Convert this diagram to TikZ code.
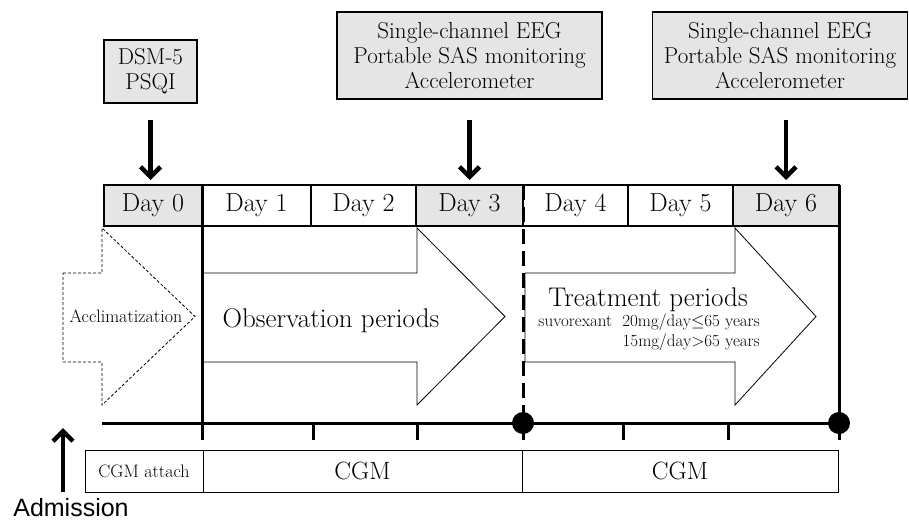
\documentclass[tikz,border=0pt]{standalone}
\usepackage{fontspec}
\newfontfamily\admfont{Liberation Sans}
\usetikzlibrary{arrows.meta}

\newcommand{\setfs}[2]{\fontsize{#1}{#2}\selectfont}
\definecolor{boxgray}{gray}{0.9}

\tikzset{
	greybox/.style={draw, line width=1.5pt, fill=boxgray, align=center, inner sep=0pt, outer sep=0pt},
	daybox/.style={draw, line width=1.5pt, minimum height=41pt, inner sep=0pt, outer sep=0pt, font=\setfs{26}{28}},
	cgmbox/.style={draw, line width=1pt, minimum height=42pt, inner sep=0pt, outer sep=0pt},
	downarrow/.style={line width=4.5pt, -{Straight Barb[length=10pt,width=20pt]}},
	periodarrow/.style={line width=0.8pt, fill=white},
}

\begin{document}
\begin{tikzpicture}[x=1pt,y=-1pt]
	\useasboundingbox (0,0) rectangle (909,519);
	
	% measurements
	\node[greybox, minimum width=93pt, minimum height=63pt, font=\setfs{23}{25}] (dsm) at (150.5,71.5) {DSM-5\\PSQI};
	
	\node[greybox, minimum width=265pt, minimum height=87pt, font=\setfs{23}{25}] (eega) at (469.5,55.5) {Single-channel EEG\\Portable SAS monitoring\\Accelerometer};
	
	\node[greybox, minimum width=255pt, minimum height=87pt, font=\setfs{23}{25}] (eegb) at (780,55.5) {Single-channel EEG\\Portable SAS monitoring\\Accelerometer};
	
	% days
	\foreach \n/\l/\r/\c in {0/104/202/boxgray, 1/202/311/white, 2/311/416/white, 3/416/523/boxgray, 4/523/628/white, 5/628/733/white, 6/733/839/boxgray}
		\node[daybox, fill=\c, minimum width={(\r-\l)*1pt}] (d\n) at ({(\l+\r)/2},205.5) {Day \n};
	
	\draw[downarrow, shorten <=17pt, shorten >=5pt] (dsm.south) -- (dsm.south |- d0.north);
	
	\draw[downarrow, shorten <=21pt, shorten >=5pt] (eega.south) -- (eega.south |- d3.north);
	
	\draw[downarrow, shorten <=21pt, shorten >=5pt] (d6.north |- eegb.south) -- (d6.north);
	
	% periods
	\draw[periodarrow, densely dashed] (63,273) -- (102,273) -- (102,228) -- (195,316.5) -- (102,405) -- (102,362) -- (63,362) -- cycle;
	
	\draw[periodarrow] (202,273) -- (417,273) -- (417,228) -- (505,316.5) -- (417,405) -- (417,362) -- (202,362) -- cycle;
	
	\draw[periodarrow] (525,273) -- (735,273) -- (735,228) -- (816,316.5) -- (735,405) -- (735,362) -- (525,362) -- cycle;
	
	\node[font=\setfs{18}{20}, anchor=base, inner sep=0pt] (accl) at (126,322) {Acclimatization};
	
	\node[font=\setfs{27}{30}, anchor=base, inner sep=0pt] (obs) at (331,327) {Observation periods};
	
	\node[font=\setfs{27}{30}, anchor=base, inner sep=0pt] (treat) at (648,306) {Treatment periods};
	
	\node[font=\setfs{17}{20}, align=right, anchor=north east, inner sep=0pt] (dose) at (760,314) {suvorexant \ 20mg/day$\leq$65 years\\15mg/day$>$65 years};
	
	% time line
	\draw[line width=3pt] (d0.north east) -- ++(0,255);
	
	\draw[line width=3pt] (d6.north east) -- ++(0,255);
	
	\draw[line width=3pt, dash pattern=on 15pt off 7pt] (d3.north east) -- ++(0,255);
	
	\draw[line width=3pt] (102,423) -- (d6.north east |- 0,423);
	
	\foreach \x in {313,417,623,728}
		\draw[line width=3pt] (\x,423) -- (\x,440);
	
	\fill (d3.north east |- 0,423) circle (11pt);
	
	\fill (d6.north east |- 0,423) circle (11pt);
	
	% CGM
	\node[cgmbox, minimum width=118pt, font=\setfs{18}{20}] (att) at (144,471) {CGM attach};
	
	\node[cgmbox, minimum width=319pt, font=\setfs{25}{28}] (cgma) at (362.5,471) {CGM};
	
	\node[cgmbox, minimum width=316pt, font=\setfs{25}{28}] (cgmb) at (680,471) {CGM};
	
	\node[font=\admfont\setfs{25}{28}, anchor=base, inner sep=0pt] (adm) at (71,516) {Admission};
	
	\coordinate (admtip) at (63,428);
	
	\draw[downarrow] (admtip |- att.south) -- (admtip);
	
\end{tikzpicture}
\end{document}
